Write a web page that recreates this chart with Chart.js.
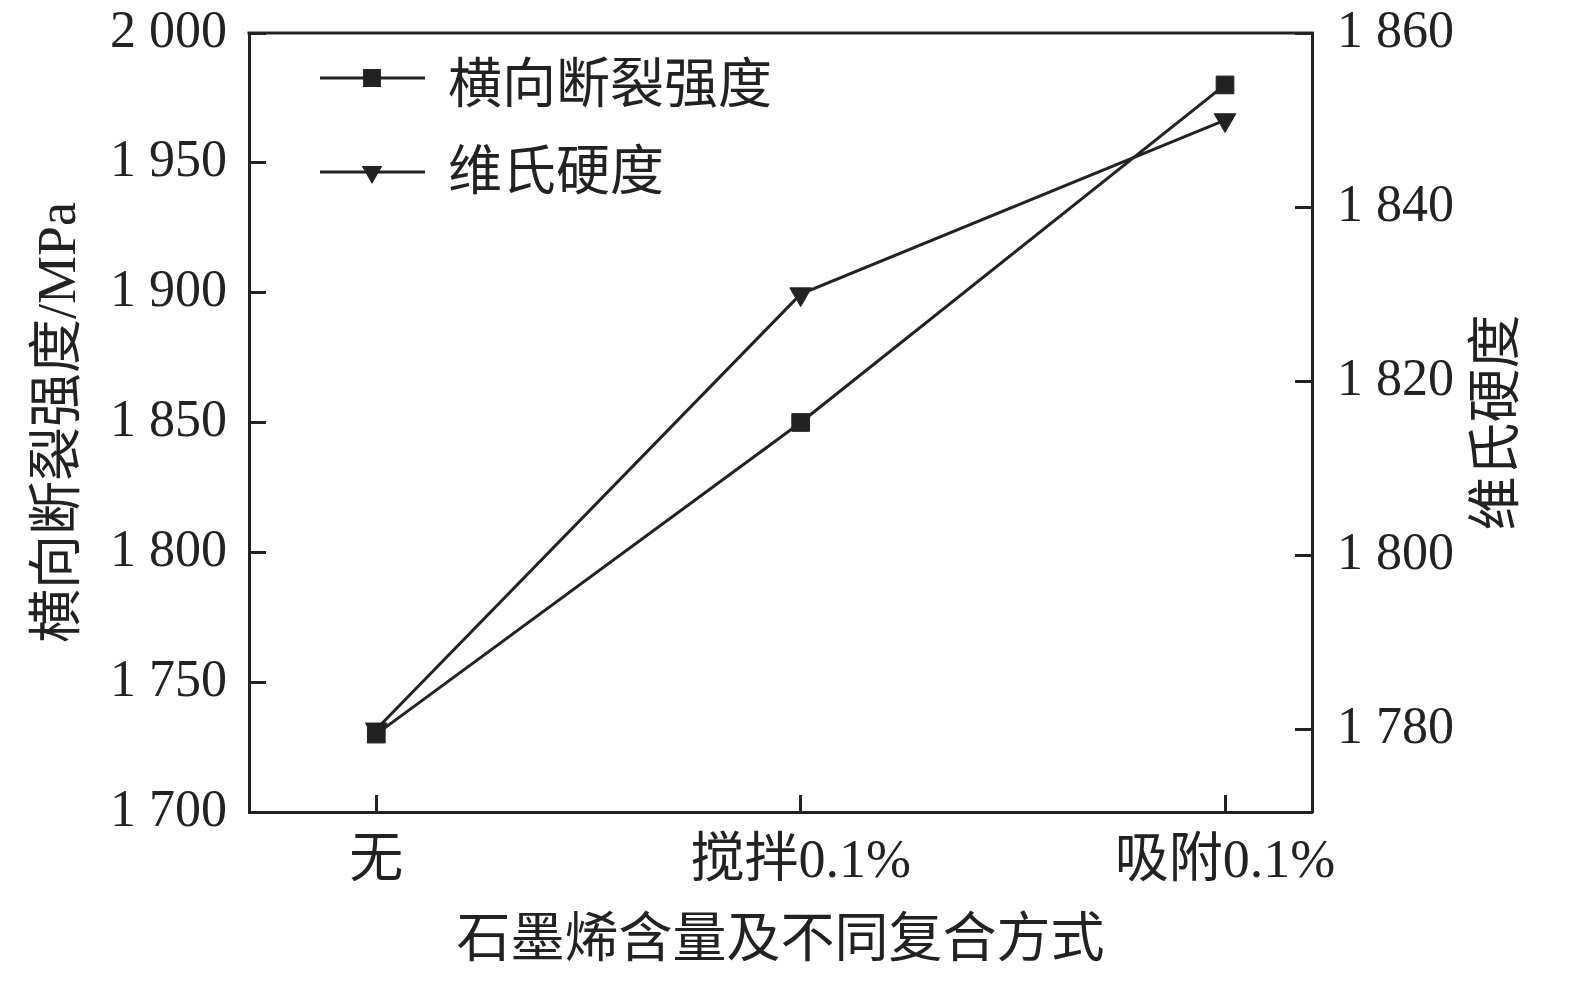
<!DOCTYPE html>
<html>
<head>
<meta charset="utf-8">
<script src="https://cdn.jsdelivr.net/npm/chart.js@4/dist/chart.umd.min.js"></script>
<style>
    html, body { margin: 0; padding: 0; background: #fff; }
    #wrap { width: 1575px; height: 988px; position: relative; }
</style>
</head>
<body>
<div id="wrap"><canvas id="chart"></canvas></div>
<script>
// data
const categories = ['无', '搅拌0.1%', '吸附0.1%'];
const strength = [1730, 1850, 1980];   // 横向断裂强度 / MPa (left axis)
const hardness = [1780, 1830, 1850];   // 维氏硬度 (right axis)
const leftTicks = [1700, 1750, 1800, 1850, 1900, 1950, 2000];
const rightTicks = [1780, 1800, 1820, 1840, 1860];

const seriesNames = ['横向断裂强度', '维氏硬度'];
const xTitle = '石墨烯含量及不同复合方式';
const leftTitle = '横向断裂强度/MPa';
const rightTitle = '维氏硬度';

const INK = '#222';
const FONT = '"Liberation Serif", "Noto Sans CJK SC", serif';

function spaced(v) {
    return String(v).replace(/\B(?=(\d{3})+(?!\d))/g, ' ');
}

// fixed axis boxes so the plot area lands where the original has it
function fixBox(size) {
    return axis => {
        if (axis.isHorizontal()) axis.height = size; else axis.width = size;
        axis.paddingTop = 0;
        axis.paddingBottom = 0;
        axis.paddingLeft = 0;
        axis.paddingRight = 0;
    };
}

// top frame line, legend with line+marker, right title reading upward
const extras = {
    id: 'extras',
    afterDraw(chart) {
        const ctx = chart.ctx;
        const a = chart.chartArea;
        ctx.save();
        ctx.strokeStyle = INK;
        ctx.lineWidth = 3;
        ctx.beginPath();
        ctx.moveTo(a.left - 1.5, a.top);
        ctx.lineTo(a.right + 1.5, a.top);
        ctx.stroke();

        // legend
        const rows = [
            { y: a.top + 45, ty: a.top + 56, style: 'rect', rot: 0, r: 10.5 },
            { y: a.top + 139, ty: a.top + 143, style: 'triangle', rot: 180, r: 9 }
        ];
        rows.forEach((row, i) => {
            const x0 = a.left + 71, x1 = a.left + 176, mx = a.left + 123;
            ctx.strokeStyle = INK;
            ctx.lineWidth = 3;
            ctx.beginPath();
            ctx.moveTo(x0, row.y);
            ctx.lineTo(x1, row.y);
            ctx.stroke();
            ctx.fillStyle = INK;
            Chart.helpers.drawPoint(ctx, {
                pointStyle: row.style, radius: row.r, rotation: row.rot, borderWidth: 1
            }, mx, row.y);
            ctx.fillStyle = INK;
            ctx.font = '54px ' + FONT;
            ctx.textAlign = 'left';
            ctx.textBaseline = 'middle';
            ctx.fillText(chart.data.datasets[i].label, a.left + 199, row.ty);
        });

        // right axis title
        ctx.translate(1500, (a.top + a.bottom) / 2);
        ctx.rotate(-Math.PI / 2);
        ctx.font = '54px ' + FONT;
        ctx.textAlign = 'center';
        ctx.textBaseline = 'middle';
        ctx.fillStyle = INK;
        ctx.fillText(rightTitle, 0, 0);
        ctx.restore();
    }
};

const axisLook = {
    border: { display: true, color: INK, width: 3 },
    grid: { drawOnChartArea: false, drawTicks: true, tickLength: -17, tickColor: INK, tickWidth: 3 }
};

new Chart(document.getElementById('chart'), {
    type: 'line',
    data: {
        datasets: [
            {
                label: seriesNames[0],
                data: strength.map((v, i) => ({ x: i, y: v })),
                yAxisID: 'y',
                borderColor: INK,
                backgroundColor: INK,
                borderWidth: 3,
                pointStyle: 'rect',
                pointRadius: 12.5,
                pointBorderWidth: 1,
                tension: 0
            },
            {
                label: seriesNames[1],
                data: hardness.map((v, i) => ({ x: i, y: v })),
                yAxisID: 'y2',
                borderColor: INK,
                backgroundColor: INK,
                borderWidth: 3,
                pointStyle: 'triangle',
                pointRotation: 180,
                pointRadius: 12.5,
                pointBorderWidth: 1,
                tension: 0
            }
        ]
    },
    options: {
        responsive: true,
        maintainAspectRatio: false,
        animation: false,
        layout: { padding: { top: 33, left: 0, right: 0, bottom: 0 } },
        plugins: {
            legend: { display: false },
            tooltip: { enabled: false }
        },
        scales: {
            x: {
                type: 'linear',
                position: 'bottom',
                min: -0.3,
                max: 2.205,
                ...axisLook,
                afterBuildTicks: axis => { axis.ticks = categories.map((c, i) => ({ value: i })); },
                afterFit: fixBox(176),
                ticks: {
                    color: INK,
                    padding: 35,
                    maxRotation: 0,
                    autoSkip: false,
                    font: { family: FONT, size: 54 },
                    callback: v => categories[v]
                },
                title: {
                    display: true,
                    text: xTitle,
                    color: INK,
                    font: { family: FONT, size: 54 },
                    padding: { top: 0, bottom: 13 }
                }
            },
            y: {
                type: 'linear',
                position: 'left',
                min: 1700,
                max: 2000,
                ...axisLook,
                afterBuildTicks: axis => { axis.ticks = leftTicks.map(v => ({ value: v })); },
                afterFit: fixBox(249),
                ticks: {
                    color: INK,
                    padding: 39,
                    font: { family: FONT, size: 52 },
                    callback: v => spaced(v)
                },
                title: {
                    display: true,
                    text: leftTitle,
                    color: INK,
                    font: { family: FONT, size: 54 },
                    padding: { top: 28, bottom: 0 }
                }
            },
            y2: {
                type: 'linear',
                position: 'right',
                min: 1770.5,
                max: 1860,
                ...axisLook,
                afterBuildTicks: axis => { axis.ticks = rightTicks.map(v => ({ value: v })); },
                afterFit: fixBox(263),
                ticks: {
                    color: INK,
                    padding: 42,
                    font: { family: FONT, size: 52 },
                    callback: v => spaced(v)
                }
            }
        }
    },
    plugins: [extras]
});
</script>
</body>
</html>
